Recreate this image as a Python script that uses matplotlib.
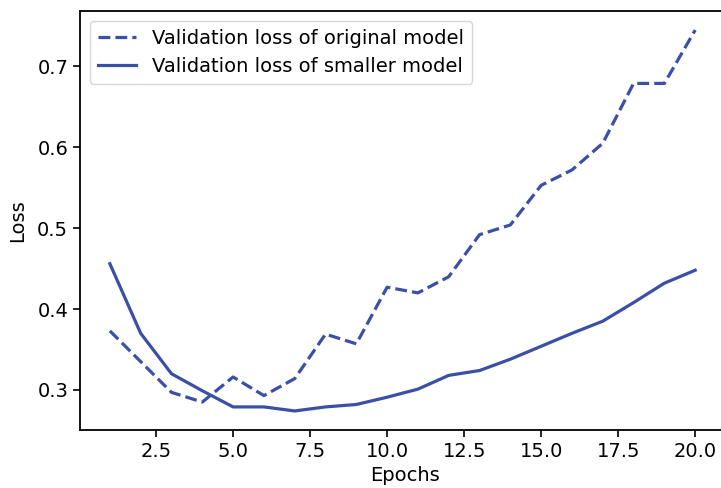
import matplotlib
matplotlib.use("Agg")
import matplotlib.pyplot as plt

epochs = list(range(1, 21))
original_val_loss = [0.373, 0.335, 0.297, 0.285, 0.316, 0.293, 0.314, 0.369, 0.357, 0.427,
                     0.420, 0.440, 0.492, 0.504, 0.553, 0.572, 0.605, 0.679, 0.679, 0.745]
smaller_val_loss = [0.456, 0.370, 0.320, 0.299, 0.279, 0.279, 0.274, 0.279, 0.282, 0.291,
                    0.301, 0.318, 0.324, 0.338, 0.354, 0.370, 0.385, 0.408, 0.432, 0.448]

line_color = "#3a4fa6"
fs = 14

fig = plt.figure(figsize=(7.21, 4.88), dpi=100)
ax = fig.add_axes([80 / 721, 58 / 488, 650 / 721, 419 / 488])

ax.plot(epochs, original_val_loss, "--", color=line_color, linewidth=2.3,
        label="Validation loss of original model")
ax.plot(epochs, smaller_val_loss, "-", color=line_color, linewidth=2.3,
        label="Validation loss of smaller model")
ax.set_xlim(0.03, 21.13)

ax.set_xlabel("Epochs", fontsize=fs, labelpad=4)
ax.set_ylabel("Loss", fontsize=fs, labelpad=7)
ax.tick_params(labelsize=fs, width=1.2, length=5)
for sp in ax.spines.values():
    sp.set_linewidth(1.3)
ax.spines["right"].set_visible(False)

ax.legend(loc="upper left", fontsize=fs, handlelength=2.0)

fig.savefig("out.png", dpi=100)
